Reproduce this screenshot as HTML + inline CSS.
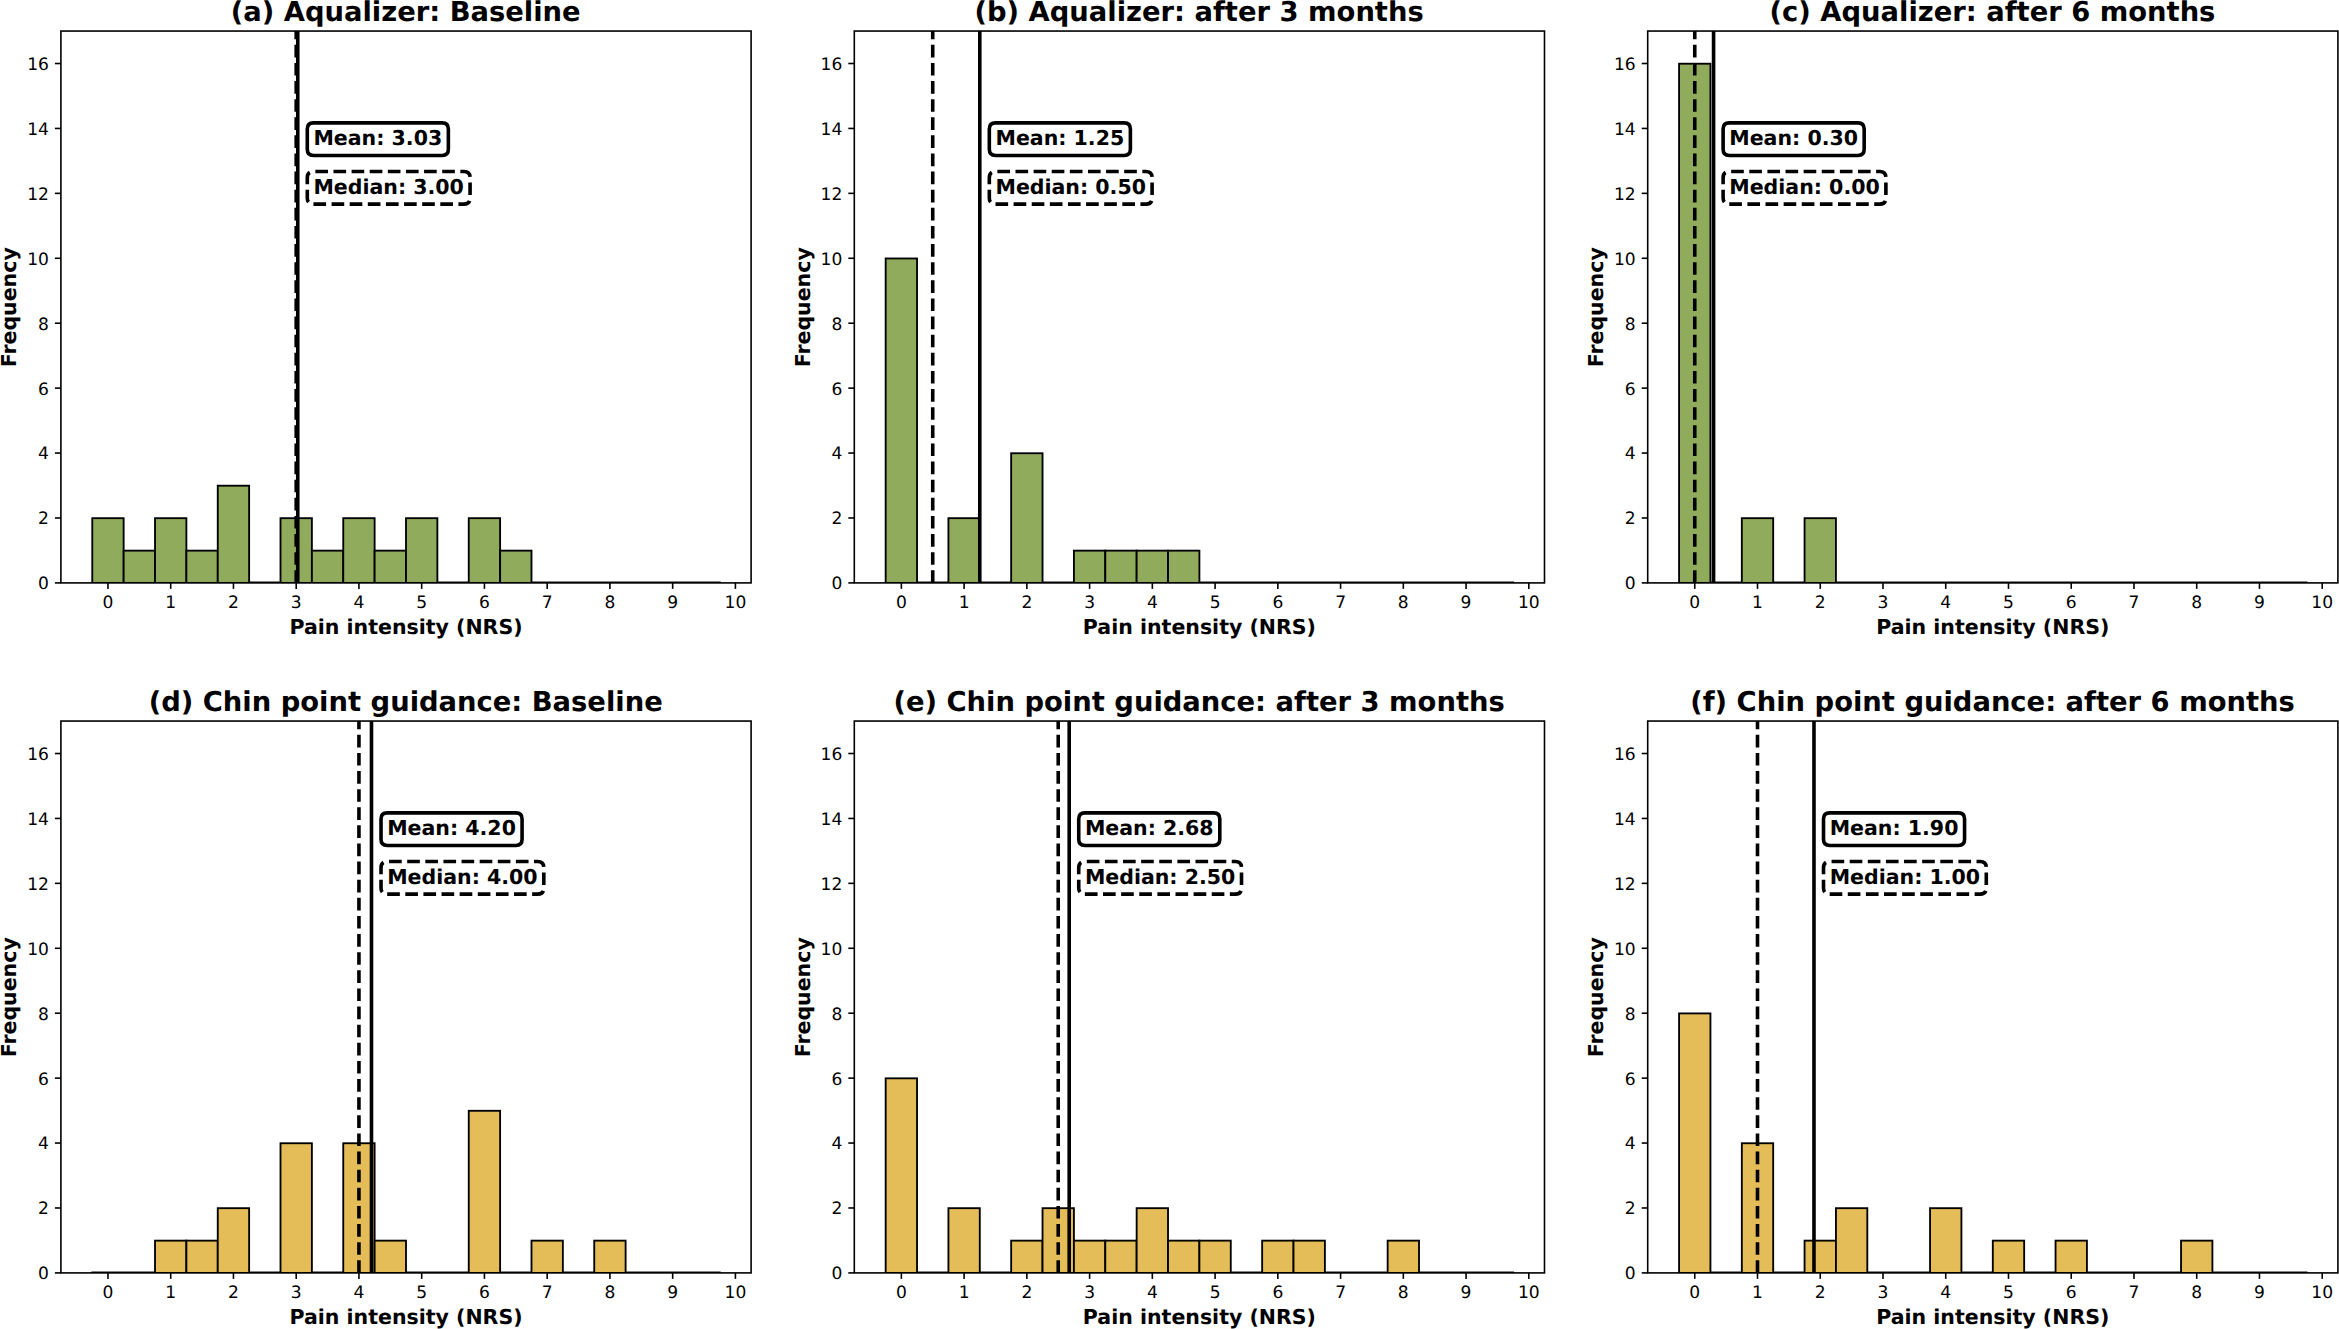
<!DOCTYPE html>
<html lang="en">
<head>
<meta charset="utf-8">
<title>Pain intensity histograms</title>
<style>
html,body{margin:0;padding:0;background:#fff;}
body{width:2339px;height:1329px;overflow:hidden;}
svg{display:block;}
text{text-rendering:geometricPrecision;font-family:"DejaVu Sans","Liberation Sans",sans-serif;font-stretch:normal;fill:#000;}
.tk{font-size:17.1px;}
.lb{font-size:20.52px;font-weight:bold;}
.tt{font-size:27.36px;font-weight:bold;}
.an{font-size:20.52px;font-weight:bold;}
</style>
</head>
<body>
<svg width="2339" height="1329" viewBox="0 0 2339 1329">
<rect x="0" y="0" width="2339" height="1329" fill="#fff"/>
<g id="panel-a">
<clipPath id="cp0"><rect x="60.9" y="31.05" width="690.2" height="551.85"/></clipPath>
<g clip-path="url(#cp0)">
<g fill="#8fab5b" stroke="#000" stroke-width="1.85" stroke-linejoin="miter">
<rect x="249.14" y="582.45" width="31.37" height="0.45"/>
<rect x="437.37" y="582.45" width="31.37" height="0.45"/>
<rect x="531.49" y="582.45" width="188.24" height="0.45"/>
<rect x="92.27" y="518.18" width="31.37" height="64.72"/>
<rect x="123.65" y="550.64" width="31.37" height="32.26"/>
<rect x="155.02" y="518.18" width="31.37" height="64.72"/>
<rect x="186.39" y="550.64" width="31.37" height="32.26"/>
<rect x="217.76" y="485.71" width="31.37" height="97.19"/>
<rect x="280.51" y="518.18" width="31.37" height="64.72"/>
<rect x="311.88" y="550.64" width="31.37" height="32.26"/>
<rect x="343.25" y="518.18" width="31.37" height="64.72"/>
<rect x="374.63" y="550.64" width="31.37" height="32.26"/>
<rect x="406" y="518.18" width="31.37" height="64.72"/>
<rect x="468.75" y="518.18" width="31.37" height="64.72"/>
<rect x="500.12" y="550.64" width="31.37" height="32.26"/>
</g>
<line x1="297.76" y1="582.9" x2="297.76" y2="31.05" stroke="#000" stroke-width="3.6"/>
<line x1="296.2" y1="582.9" x2="296.2" y2="31.05" stroke="#000" stroke-width="3.6" stroke-dasharray="12.65 5.47"/>
</g>
<path d="M313.45 155.44 L442.2 155.44 Q448.36 155.44 448.36 149.29 L448.36 128.99 Q448.36 122.83 442.2 122.83 L313.45 122.83 Q307.29 122.83 307.29 128.99 L307.29 149.29 Q307.29 155.44 313.45 155.44Z" fill="#fff" stroke="#000" stroke-width="3.6"/>
<text class="an" x="313.45" y="144.94">Mean: 3.03</text>
<path d="M313.45 204.13 L463.92 204.13 Q470.08 204.13 470.08 197.98 L470.08 177.68 Q470.08 171.52 463.92 171.52 L313.45 171.52 Q307.29 171.52 307.29 177.68 L307.29 197.98 Q307.29 204.13 313.45 204.13Z" fill="#fff" stroke="#000" stroke-width="3.6" stroke-dasharray="12.65 5.47"/>
<text class="an" x="313.45" y="193.63">Median: 3.00</text>
<rect x="60.9" y="31.05" width="690.2" height="551.85" fill="none" stroke="#000" stroke-width="1.6"/>
<g stroke="#000" stroke-width="1.6">
<line x1="107.96" y1="582.9" x2="107.96" y2="588.88"/>
<line x1="170.7" y1="582.9" x2="170.7" y2="588.88"/>
<line x1="233.45" y1="582.9" x2="233.45" y2="588.88"/>
<line x1="296.2" y1="582.9" x2="296.2" y2="588.88"/>
<line x1="358.94" y1="582.9" x2="358.94" y2="588.88"/>
<line x1="421.69" y1="582.9" x2="421.69" y2="588.88"/>
<line x1="484.43" y1="582.9" x2="484.43" y2="588.88"/>
<line x1="547.18" y1="582.9" x2="547.18" y2="588.88"/>
<line x1="609.92" y1="582.9" x2="609.92" y2="588.88"/>
<line x1="672.67" y1="582.9" x2="672.67" y2="588.88"/>
<line x1="735.41" y1="582.9" x2="735.41" y2="588.88"/>
<line x1="60.9" y1="582.9" x2="54.91" y2="582.9"/>
<line x1="60.9" y1="517.98" x2="54.91" y2="517.98"/>
<line x1="60.9" y1="453.05" x2="54.91" y2="453.05"/>
<line x1="60.9" y1="388.13" x2="54.91" y2="388.13"/>
<line x1="60.9" y1="323.21" x2="54.91" y2="323.21"/>
<line x1="60.9" y1="258.28" x2="54.91" y2="258.28"/>
<line x1="60.9" y1="193.36" x2="54.91" y2="193.36"/>
<line x1="60.9" y1="128.44" x2="54.91" y2="128.44"/>
<line x1="60.9" y1="63.51" x2="54.91" y2="63.51"/>
</g>
<g class="tk" text-anchor="middle">
<text x="107.96" y="608">0</text>
<text x="170.7" y="608">1</text>
<text x="233.45" y="608">2</text>
<text x="296.2" y="608">3</text>
<text x="358.94" y="608">4</text>
<text x="421.69" y="608">5</text>
<text x="484.43" y="608">6</text>
<text x="547.18" y="608">7</text>
<text x="609.92" y="608">8</text>
<text x="672.67" y="608">9</text>
<text x="735.41" y="608">10</text>
</g>
<g class="tk" text-anchor="end">
<text x="48.93" y="589.3">0</text>
<text x="48.93" y="524.38">2</text>
<text x="48.93" y="459.45">4</text>
<text x="48.93" y="394.53">6</text>
<text x="48.93" y="329.61">8</text>
<text x="48.93" y="264.68">10</text>
<text x="48.93" y="199.76">12</text>
<text x="48.93" y="134.84">14</text>
<text x="48.93" y="69.91">16</text>
</g>
<text class="lb" text-anchor="middle" x="406" y="634.1">Pain intensity (NRS)</text>
<text class="lb" text-anchor="middle" transform="translate(16.4 307.27) rotate(-90)">Frequency</text>
<text class="tt" text-anchor="middle" x="405.7" y="20.8">(a) Aqualizer: Baseline</text>
</g>
<g id="panel-b">
<clipPath id="cp1"><rect x="854.3" y="31.05" width="690.2" height="551.85"/></clipPath>
<g clip-path="url(#cp1)">
<g fill="#8fab5b" stroke="#000" stroke-width="1.85" stroke-linejoin="miter">
<rect x="917.05" y="582.45" width="31.37" height="0.45"/>
<rect x="979.79" y="582.45" width="31.37" height="0.45"/>
<rect x="1042.54" y="582.45" width="31.37" height="0.45"/>
<rect x="1199.4" y="582.45" width="313.73" height="0.45"/>
<rect x="885.67" y="258.48" width="31.37" height="324.42"/>
<rect x="948.42" y="518.18" width="31.37" height="64.72"/>
<rect x="1011.16" y="453.25" width="31.37" height="129.65"/>
<rect x="1073.91" y="550.64" width="31.37" height="32.26"/>
<rect x="1105.28" y="550.64" width="31.37" height="32.26"/>
<rect x="1136.65" y="550.64" width="31.37" height="32.26"/>
<rect x="1168.03" y="550.64" width="31.37" height="32.26"/>
</g>
<line x1="979.79" y1="582.9" x2="979.79" y2="31.05" stroke="#000" stroke-width="3.6"/>
<line x1="932.73" y1="582.9" x2="932.73" y2="31.05" stroke="#000" stroke-width="3.6" stroke-dasharray="12.65 5.47"/>
</g>
<path d="M995.48 155.44 L1124.23 155.44 Q1130.38 155.44 1130.38 149.29 L1130.38 128.99 Q1130.38 122.83 1124.23 122.83 L995.48 122.83 Q989.32 122.83 989.32 128.99 L989.32 149.29 Q989.32 155.44 995.48 155.44Z" fill="#fff" stroke="#000" stroke-width="3.6"/>
<text class="an" x="995.48" y="144.94">Mean: 1.25</text>
<path d="M995.48 204.13 L1145.95 204.13 Q1152.1 204.13 1152.1 197.98 L1152.1 177.68 Q1152.1 171.52 1145.95 171.52 L995.48 171.52 Q989.32 171.52 989.32 177.68 L989.32 197.98 Q989.32 204.13 995.48 204.13Z" fill="#fff" stroke="#000" stroke-width="3.6" stroke-dasharray="12.65 5.47"/>
<text class="an" x="995.48" y="193.63">Median: 0.50</text>
<rect x="854.3" y="31.05" width="690.2" height="551.85" fill="none" stroke="#000" stroke-width="1.6"/>
<g stroke="#000" stroke-width="1.6">
<line x1="901.36" y1="582.9" x2="901.36" y2="588.88"/>
<line x1="964.1" y1="582.9" x2="964.1" y2="588.88"/>
<line x1="1026.85" y1="582.9" x2="1026.85" y2="588.88"/>
<line x1="1089.6" y1="582.9" x2="1089.6" y2="588.88"/>
<line x1="1152.34" y1="582.9" x2="1152.34" y2="588.88"/>
<line x1="1215.09" y1="582.9" x2="1215.09" y2="588.88"/>
<line x1="1277.83" y1="582.9" x2="1277.83" y2="588.88"/>
<line x1="1340.58" y1="582.9" x2="1340.58" y2="588.88"/>
<line x1="1403.32" y1="582.9" x2="1403.32" y2="588.88"/>
<line x1="1466.07" y1="582.9" x2="1466.07" y2="588.88"/>
<line x1="1528.81" y1="582.9" x2="1528.81" y2="588.88"/>
<line x1="854.3" y1="582.9" x2="848.31" y2="582.9"/>
<line x1="854.3" y1="517.98" x2="848.31" y2="517.98"/>
<line x1="854.3" y1="453.05" x2="848.31" y2="453.05"/>
<line x1="854.3" y1="388.13" x2="848.31" y2="388.13"/>
<line x1="854.3" y1="323.21" x2="848.31" y2="323.21"/>
<line x1="854.3" y1="258.28" x2="848.31" y2="258.28"/>
<line x1="854.3" y1="193.36" x2="848.31" y2="193.36"/>
<line x1="854.3" y1="128.44" x2="848.31" y2="128.44"/>
<line x1="854.3" y1="63.51" x2="848.31" y2="63.51"/>
</g>
<g class="tk" text-anchor="middle">
<text x="901.36" y="608">0</text>
<text x="964.1" y="608">1</text>
<text x="1026.85" y="608">2</text>
<text x="1089.6" y="608">3</text>
<text x="1152.34" y="608">4</text>
<text x="1215.09" y="608">5</text>
<text x="1277.83" y="608">6</text>
<text x="1340.58" y="608">7</text>
<text x="1403.32" y="608">8</text>
<text x="1466.07" y="608">9</text>
<text x="1528.81" y="608">10</text>
</g>
<g class="tk" text-anchor="end">
<text x="842.33" y="589.3">0</text>
<text x="842.33" y="524.38">2</text>
<text x="842.33" y="459.45">4</text>
<text x="842.33" y="394.53">6</text>
<text x="842.33" y="329.61">8</text>
<text x="842.33" y="264.68">10</text>
<text x="842.33" y="199.76">12</text>
<text x="842.33" y="134.84">14</text>
<text x="842.33" y="69.91">16</text>
</g>
<text class="lb" text-anchor="middle" x="1199.4" y="634.1">Pain intensity (NRS)</text>
<text class="lb" text-anchor="middle" transform="translate(809.8 307.27) rotate(-90)">Frequency</text>
<text class="tt" text-anchor="middle" x="1199.1" y="20.8">(b) Aqualizer: after 3 months</text>
</g>
<g id="panel-c">
<clipPath id="cp2"><rect x="1647.7" y="31.05" width="690.2" height="551.85"/></clipPath>
<g clip-path="url(#cp2)">
<g fill="#8fab5b" stroke="#000" stroke-width="1.85" stroke-linejoin="miter">
<rect x="1710.45" y="582.45" width="31.37" height="0.45"/>
<rect x="1773.19" y="582.45" width="31.37" height="0.45"/>
<rect x="1835.94" y="582.45" width="470.59" height="0.45"/>
<rect x="1679.07" y="63.71" width="31.37" height="519.19"/>
<rect x="1741.82" y="518.18" width="31.37" height="64.72"/>
<rect x="1804.56" y="518.18" width="31.37" height="64.72"/>
</g>
<line x1="1713.58" y1="582.9" x2="1713.58" y2="31.05" stroke="#000" stroke-width="3.6"/>
<line x1="1694.76" y1="582.9" x2="1694.76" y2="31.05" stroke="#000" stroke-width="3.6" stroke-dasharray="12.65 5.47"/>
</g>
<path d="M1729.27 155.44 L1858.02 155.44 Q1864.18 155.44 1864.18 149.29 L1864.18 128.99 Q1864.18 122.83 1858.02 122.83 L1729.27 122.83 Q1723.11 122.83 1723.11 128.99 L1723.11 149.29 Q1723.11 155.44 1729.27 155.44Z" fill="#fff" stroke="#000" stroke-width="3.6"/>
<text class="an" x="1729.27" y="144.94">Mean: 0.30</text>
<path d="M1729.27 204.13 L1879.74 204.13 Q1885.89 204.13 1885.89 197.98 L1885.89 177.68 Q1885.89 171.52 1879.74 171.52 L1729.27 171.52 Q1723.11 171.52 1723.11 177.68 L1723.11 197.98 Q1723.11 204.13 1729.27 204.13Z" fill="#fff" stroke="#000" stroke-width="3.6" stroke-dasharray="12.65 5.47"/>
<text class="an" x="1729.27" y="193.63">Median: 0.00</text>
<rect x="1647.7" y="31.05" width="690.2" height="551.85" fill="none" stroke="#000" stroke-width="1.6"/>
<g stroke="#000" stroke-width="1.6">
<line x1="1694.76" y1="582.9" x2="1694.76" y2="588.88"/>
<line x1="1757.5" y1="582.9" x2="1757.5" y2="588.88"/>
<line x1="1820.25" y1="582.9" x2="1820.25" y2="588.88"/>
<line x1="1883" y1="582.9" x2="1883" y2="588.88"/>
<line x1="1945.74" y1="582.9" x2="1945.74" y2="588.88"/>
<line x1="2008.49" y1="582.9" x2="2008.49" y2="588.88"/>
<line x1="2071.23" y1="582.9" x2="2071.23" y2="588.88"/>
<line x1="2133.98" y1="582.9" x2="2133.98" y2="588.88"/>
<line x1="2196.72" y1="582.9" x2="2196.72" y2="588.88"/>
<line x1="2259.47" y1="582.9" x2="2259.47" y2="588.88"/>
<line x1="2322.21" y1="582.9" x2="2322.21" y2="588.88"/>
<line x1="1647.7" y1="582.9" x2="1641.72" y2="582.9"/>
<line x1="1647.7" y1="517.98" x2="1641.72" y2="517.98"/>
<line x1="1647.7" y1="453.05" x2="1641.72" y2="453.05"/>
<line x1="1647.7" y1="388.13" x2="1641.72" y2="388.13"/>
<line x1="1647.7" y1="323.21" x2="1641.72" y2="323.21"/>
<line x1="1647.7" y1="258.28" x2="1641.72" y2="258.28"/>
<line x1="1647.7" y1="193.36" x2="1641.72" y2="193.36"/>
<line x1="1647.7" y1="128.44" x2="1641.72" y2="128.44"/>
<line x1="1647.7" y1="63.51" x2="1641.72" y2="63.51"/>
</g>
<g class="tk" text-anchor="middle">
<text x="1694.76" y="608">0</text>
<text x="1757.5" y="608">1</text>
<text x="1820.25" y="608">2</text>
<text x="1883" y="608">3</text>
<text x="1945.74" y="608">4</text>
<text x="2008.49" y="608">5</text>
<text x="2071.23" y="608">6</text>
<text x="2133.98" y="608">7</text>
<text x="2196.72" y="608">8</text>
<text x="2259.47" y="608">9</text>
<text x="2322.21" y="608">10</text>
</g>
<g class="tk" text-anchor="end">
<text x="1635.73" y="589.3">0</text>
<text x="1635.73" y="524.38">2</text>
<text x="1635.73" y="459.45">4</text>
<text x="1635.73" y="394.53">6</text>
<text x="1635.73" y="329.61">8</text>
<text x="1635.73" y="264.68">10</text>
<text x="1635.73" y="199.76">12</text>
<text x="1635.73" y="134.84">14</text>
<text x="1635.73" y="69.91">16</text>
</g>
<text class="lb" text-anchor="middle" x="1992.8" y="634.1">Pain intensity (NRS)</text>
<text class="lb" text-anchor="middle" transform="translate(1603.2 307.27) rotate(-90)">Frequency</text>
<text class="tt" text-anchor="middle" x="1992.5" y="20.8">(c) Aqualizer: after 6 months</text>
</g>
<g id="panel-d">
<clipPath id="cp3"><rect x="60.9" y="721.05" width="690.2" height="551.85"/></clipPath>
<g clip-path="url(#cp3)">
<g fill="#e4bd58" stroke="#000" stroke-width="1.85" stroke-linejoin="miter">
<rect x="92.27" y="1272.45" width="62.75" height="0.45"/>
<rect x="249.14" y="1272.45" width="31.37" height="0.45"/>
<rect x="311.88" y="1272.45" width="31.37" height="0.45"/>
<rect x="406" y="1272.45" width="62.75" height="0.45"/>
<rect x="500.12" y="1272.45" width="31.37" height="0.45"/>
<rect x="562.86" y="1272.45" width="31.37" height="0.45"/>
<rect x="625.61" y="1272.45" width="94.12" height="0.45"/>
<rect x="155.02" y="1240.64" width="31.37" height="32.26"/>
<rect x="186.39" y="1240.64" width="31.37" height="32.26"/>
<rect x="217.76" y="1208.18" width="31.37" height="64.72"/>
<rect x="280.51" y="1143.25" width="31.37" height="129.65"/>
<rect x="343.25" y="1143.25" width="31.37" height="129.65"/>
<rect x="374.63" y="1240.64" width="31.37" height="32.26"/>
<rect x="468.75" y="1110.79" width="31.37" height="162.11"/>
<rect x="531.49" y="1240.64" width="31.37" height="32.26"/>
<rect x="594.24" y="1240.64" width="31.37" height="32.26"/>
</g>
<line x1="371.49" y1="1272.9" x2="371.49" y2="721.05" stroke="#000" stroke-width="3.6"/>
<line x1="358.94" y1="1272.9" x2="358.94" y2="721.05" stroke="#000" stroke-width="3.6" stroke-dasharray="12.65 5.47"/>
</g>
<path d="M387.18 845.44 L515.93 845.44 Q522.08 845.44 522.08 839.29 L522.08 818.99 Q522.08 812.83 515.93 812.83 L387.18 812.83 Q381.02 812.83 381.02 818.99 L381.02 839.29 Q381.02 845.44 387.18 845.44Z" fill="#fff" stroke="#000" stroke-width="3.6"/>
<text class="an" x="387.18" y="834.94">Mean: 4.20</text>
<path d="M387.18 894.13 L537.65 894.13 Q543.8 894.13 543.8 887.98 L543.8 867.68 Q543.8 861.52 537.65 861.52 L387.18 861.52 Q381.02 861.52 381.02 867.68 L381.02 887.98 Q381.02 894.13 387.18 894.13Z" fill="#fff" stroke="#000" stroke-width="3.6" stroke-dasharray="12.65 5.47"/>
<text class="an" x="387.18" y="883.63">Median: 4.00</text>
<rect x="60.9" y="721.05" width="690.2" height="551.85" fill="none" stroke="#000" stroke-width="1.6"/>
<g stroke="#000" stroke-width="1.6">
<line x1="107.96" y1="1272.9" x2="107.96" y2="1278.88"/>
<line x1="170.7" y1="1272.9" x2="170.7" y2="1278.88"/>
<line x1="233.45" y1="1272.9" x2="233.45" y2="1278.88"/>
<line x1="296.2" y1="1272.9" x2="296.2" y2="1278.88"/>
<line x1="358.94" y1="1272.9" x2="358.94" y2="1278.88"/>
<line x1="421.69" y1="1272.9" x2="421.69" y2="1278.88"/>
<line x1="484.43" y1="1272.9" x2="484.43" y2="1278.88"/>
<line x1="547.18" y1="1272.9" x2="547.18" y2="1278.88"/>
<line x1="609.92" y1="1272.9" x2="609.92" y2="1278.88"/>
<line x1="672.67" y1="1272.9" x2="672.67" y2="1278.88"/>
<line x1="735.41" y1="1272.9" x2="735.41" y2="1278.88"/>
<line x1="60.9" y1="1272.9" x2="54.91" y2="1272.9"/>
<line x1="60.9" y1="1207.98" x2="54.91" y2="1207.98"/>
<line x1="60.9" y1="1143.05" x2="54.91" y2="1143.05"/>
<line x1="60.9" y1="1078.13" x2="54.91" y2="1078.13"/>
<line x1="60.9" y1="1013.21" x2="54.91" y2="1013.21"/>
<line x1="60.9" y1="948.28" x2="54.91" y2="948.28"/>
<line x1="60.9" y1="883.36" x2="54.91" y2="883.36"/>
<line x1="60.9" y1="818.44" x2="54.91" y2="818.44"/>
<line x1="60.9" y1="753.51" x2="54.91" y2="753.51"/>
</g>
<g class="tk" text-anchor="middle">
<text x="107.96" y="1298">0</text>
<text x="170.7" y="1298">1</text>
<text x="233.45" y="1298">2</text>
<text x="296.2" y="1298">3</text>
<text x="358.94" y="1298">4</text>
<text x="421.69" y="1298">5</text>
<text x="484.43" y="1298">6</text>
<text x="547.18" y="1298">7</text>
<text x="609.92" y="1298">8</text>
<text x="672.67" y="1298">9</text>
<text x="735.41" y="1298">10</text>
</g>
<g class="tk" text-anchor="end">
<text x="48.93" y="1279.3">0</text>
<text x="48.93" y="1214.38">2</text>
<text x="48.93" y="1149.45">4</text>
<text x="48.93" y="1084.53">6</text>
<text x="48.93" y="1019.61">8</text>
<text x="48.93" y="954.68">10</text>
<text x="48.93" y="889.76">12</text>
<text x="48.93" y="824.84">14</text>
<text x="48.93" y="759.91">16</text>
</g>
<text class="lb" text-anchor="middle" x="406" y="1324.1">Pain intensity (NRS)</text>
<text class="lb" text-anchor="middle" transform="translate(16.4 997.27) rotate(-90)">Frequency</text>
<text class="tt" text-anchor="middle" x="405.7" y="710.8">(d) Chin point guidance: Baseline</text>
</g>
<g id="panel-e">
<clipPath id="cp4"><rect x="854.3" y="721.05" width="690.2" height="551.85"/></clipPath>
<g clip-path="url(#cp4)">
<g fill="#e4bd58" stroke="#000" stroke-width="1.85" stroke-linejoin="miter">
<rect x="917.05" y="1272.45" width="31.37" height="0.45"/>
<rect x="979.79" y="1272.45" width="31.37" height="0.45"/>
<rect x="1230.77" y="1272.45" width="31.37" height="0.45"/>
<rect x="1324.89" y="1272.45" width="62.75" height="0.45"/>
<rect x="1419.01" y="1272.45" width="94.12" height="0.45"/>
<rect x="885.67" y="1078.33" width="31.37" height="194.57"/>
<rect x="948.42" y="1208.18" width="31.37" height="64.72"/>
<rect x="1011.16" y="1240.64" width="31.37" height="32.26"/>
<rect x="1042.54" y="1208.18" width="31.37" height="64.72"/>
<rect x="1073.91" y="1240.64" width="31.37" height="32.26"/>
<rect x="1105.28" y="1240.64" width="31.37" height="32.26"/>
<rect x="1136.65" y="1208.18" width="31.37" height="64.72"/>
<rect x="1168.03" y="1240.64" width="31.37" height="32.26"/>
<rect x="1199.4" y="1240.64" width="31.37" height="32.26"/>
<rect x="1262.15" y="1240.64" width="31.37" height="32.26"/>
<rect x="1293.52" y="1240.64" width="31.37" height="32.26"/>
<rect x="1387.64" y="1240.64" width="31.37" height="32.26"/>
</g>
<line x1="1069.2" y1="1272.9" x2="1069.2" y2="721.05" stroke="#000" stroke-width="3.6"/>
<line x1="1058.22" y1="1272.9" x2="1058.22" y2="721.05" stroke="#000" stroke-width="3.6" stroke-dasharray="12.65 5.47"/>
</g>
<path d="M1084.89 845.44 L1213.64 845.44 Q1219.8 845.44 1219.8 839.29 L1219.8 818.99 Q1219.8 812.83 1213.64 812.83 L1084.89 812.83 Q1078.73 812.83 1078.73 818.99 L1078.73 839.29 Q1078.73 845.44 1084.89 845.44Z" fill="#fff" stroke="#000" stroke-width="3.6"/>
<text class="an" x="1084.89" y="834.94">Mean: 2.68</text>
<path d="M1084.89 894.13 L1235.36 894.13 Q1241.51 894.13 1241.51 887.98 L1241.51 867.68 Q1241.51 861.52 1235.36 861.52 L1084.89 861.52 Q1078.73 861.52 1078.73 867.68 L1078.73 887.98 Q1078.73 894.13 1084.89 894.13Z" fill="#fff" stroke="#000" stroke-width="3.6" stroke-dasharray="12.65 5.47"/>
<text class="an" x="1084.89" y="883.63">Median: 2.50</text>
<rect x="854.3" y="721.05" width="690.2" height="551.85" fill="none" stroke="#000" stroke-width="1.6"/>
<g stroke="#000" stroke-width="1.6">
<line x1="901.36" y1="1272.9" x2="901.36" y2="1278.88"/>
<line x1="964.1" y1="1272.9" x2="964.1" y2="1278.88"/>
<line x1="1026.85" y1="1272.9" x2="1026.85" y2="1278.88"/>
<line x1="1089.6" y1="1272.9" x2="1089.6" y2="1278.88"/>
<line x1="1152.34" y1="1272.9" x2="1152.34" y2="1278.88"/>
<line x1="1215.09" y1="1272.9" x2="1215.09" y2="1278.88"/>
<line x1="1277.83" y1="1272.9" x2="1277.83" y2="1278.88"/>
<line x1="1340.58" y1="1272.9" x2="1340.58" y2="1278.88"/>
<line x1="1403.32" y1="1272.9" x2="1403.32" y2="1278.88"/>
<line x1="1466.07" y1="1272.9" x2="1466.07" y2="1278.88"/>
<line x1="1528.81" y1="1272.9" x2="1528.81" y2="1278.88"/>
<line x1="854.3" y1="1272.9" x2="848.31" y2="1272.9"/>
<line x1="854.3" y1="1207.98" x2="848.31" y2="1207.98"/>
<line x1="854.3" y1="1143.05" x2="848.31" y2="1143.05"/>
<line x1="854.3" y1="1078.13" x2="848.31" y2="1078.13"/>
<line x1="854.3" y1="1013.21" x2="848.31" y2="1013.21"/>
<line x1="854.3" y1="948.28" x2="848.31" y2="948.28"/>
<line x1="854.3" y1="883.36" x2="848.31" y2="883.36"/>
<line x1="854.3" y1="818.44" x2="848.31" y2="818.44"/>
<line x1="854.3" y1="753.51" x2="848.31" y2="753.51"/>
</g>
<g class="tk" text-anchor="middle">
<text x="901.36" y="1298">0</text>
<text x="964.1" y="1298">1</text>
<text x="1026.85" y="1298">2</text>
<text x="1089.6" y="1298">3</text>
<text x="1152.34" y="1298">4</text>
<text x="1215.09" y="1298">5</text>
<text x="1277.83" y="1298">6</text>
<text x="1340.58" y="1298">7</text>
<text x="1403.32" y="1298">8</text>
<text x="1466.07" y="1298">9</text>
<text x="1528.81" y="1298">10</text>
</g>
<g class="tk" text-anchor="end">
<text x="842.33" y="1279.3">0</text>
<text x="842.33" y="1214.38">2</text>
<text x="842.33" y="1149.45">4</text>
<text x="842.33" y="1084.53">6</text>
<text x="842.33" y="1019.61">8</text>
<text x="842.33" y="954.68">10</text>
<text x="842.33" y="889.76">12</text>
<text x="842.33" y="824.84">14</text>
<text x="842.33" y="759.91">16</text>
</g>
<text class="lb" text-anchor="middle" x="1199.4" y="1324.1">Pain intensity (NRS)</text>
<text class="lb" text-anchor="middle" transform="translate(809.8 997.27) rotate(-90)">Frequency</text>
<text class="tt" text-anchor="middle" x="1199.1" y="710.8">(e) Chin point guidance: after 3 months</text>
</g>
<g id="panel-f">
<clipPath id="cp5"><rect x="1647.7" y="721.05" width="690.2" height="551.85"/></clipPath>
<g clip-path="url(#cp5)">
<g fill="#e4bd58" stroke="#000" stroke-width="1.85" stroke-linejoin="miter">
<rect x="1710.45" y="1272.45" width="31.37" height="0.45"/>
<rect x="1773.19" y="1272.45" width="31.37" height="0.45"/>
<rect x="1867.31" y="1272.45" width="62.75" height="0.45"/>
<rect x="1961.43" y="1272.45" width="31.37" height="0.45"/>
<rect x="2024.17" y="1272.45" width="31.37" height="0.45"/>
<rect x="2086.92" y="1272.45" width="94.12" height="0.45"/>
<rect x="2212.41" y="1272.45" width="94.12" height="0.45"/>
<rect x="1679.07" y="1013.41" width="31.37" height="259.49"/>
<rect x="1741.82" y="1143.25" width="31.37" height="129.65"/>
<rect x="1804.56" y="1240.64" width="31.37" height="32.26"/>
<rect x="1835.94" y="1208.18" width="31.37" height="64.72"/>
<rect x="1930.05" y="1208.18" width="31.37" height="64.72"/>
<rect x="1992.8" y="1240.64" width="31.37" height="32.26"/>
<rect x="2055.55" y="1240.64" width="31.37" height="32.26"/>
<rect x="2181.04" y="1240.64" width="31.37" height="32.26"/>
</g>
<line x1="1813.98" y1="1272.9" x2="1813.98" y2="721.05" stroke="#000" stroke-width="3.6"/>
<line x1="1757.5" y1="1272.9" x2="1757.5" y2="721.05" stroke="#000" stroke-width="3.6" stroke-dasharray="12.65 5.47"/>
</g>
<path d="M1829.66 845.44 L1958.41 845.44 Q1964.57 845.44 1964.57 839.29 L1964.57 818.99 Q1964.57 812.83 1958.41 812.83 L1829.66 812.83 Q1823.51 812.83 1823.51 818.99 L1823.51 839.29 Q1823.51 845.44 1829.66 845.44Z" fill="#fff" stroke="#000" stroke-width="3.6"/>
<text class="an" x="1829.66" y="834.94">Mean: 1.90</text>
<path d="M1829.66 894.13 L1980.13 894.13 Q1986.29 894.13 1986.29 887.98 L1986.29 867.68 Q1986.29 861.52 1980.13 861.52 L1829.66 861.52 Q1823.51 861.52 1823.51 867.68 L1823.51 887.98 Q1823.51 894.13 1829.66 894.13Z" fill="#fff" stroke="#000" stroke-width="3.6" stroke-dasharray="12.65 5.47"/>
<text class="an" x="1829.66" y="883.63">Median: 1.00</text>
<rect x="1647.7" y="721.05" width="690.2" height="551.85" fill="none" stroke="#000" stroke-width="1.6"/>
<g stroke="#000" stroke-width="1.6">
<line x1="1694.76" y1="1272.9" x2="1694.76" y2="1278.88"/>
<line x1="1757.5" y1="1272.9" x2="1757.5" y2="1278.88"/>
<line x1="1820.25" y1="1272.9" x2="1820.25" y2="1278.88"/>
<line x1="1883" y1="1272.9" x2="1883" y2="1278.88"/>
<line x1="1945.74" y1="1272.9" x2="1945.74" y2="1278.88"/>
<line x1="2008.49" y1="1272.9" x2="2008.49" y2="1278.88"/>
<line x1="2071.23" y1="1272.9" x2="2071.23" y2="1278.88"/>
<line x1="2133.98" y1="1272.9" x2="2133.98" y2="1278.88"/>
<line x1="2196.72" y1="1272.9" x2="2196.72" y2="1278.88"/>
<line x1="2259.47" y1="1272.9" x2="2259.47" y2="1278.88"/>
<line x1="2322.21" y1="1272.9" x2="2322.21" y2="1278.88"/>
<line x1="1647.7" y1="1272.9" x2="1641.72" y2="1272.9"/>
<line x1="1647.7" y1="1207.98" x2="1641.72" y2="1207.98"/>
<line x1="1647.7" y1="1143.05" x2="1641.72" y2="1143.05"/>
<line x1="1647.7" y1="1078.13" x2="1641.72" y2="1078.13"/>
<line x1="1647.7" y1="1013.21" x2="1641.72" y2="1013.21"/>
<line x1="1647.7" y1="948.28" x2="1641.72" y2="948.28"/>
<line x1="1647.7" y1="883.36" x2="1641.72" y2="883.36"/>
<line x1="1647.7" y1="818.44" x2="1641.72" y2="818.44"/>
<line x1="1647.7" y1="753.51" x2="1641.72" y2="753.51"/>
</g>
<g class="tk" text-anchor="middle">
<text x="1694.76" y="1298">0</text>
<text x="1757.5" y="1298">1</text>
<text x="1820.25" y="1298">2</text>
<text x="1883" y="1298">3</text>
<text x="1945.74" y="1298">4</text>
<text x="2008.49" y="1298">5</text>
<text x="2071.23" y="1298">6</text>
<text x="2133.98" y="1298">7</text>
<text x="2196.72" y="1298">8</text>
<text x="2259.47" y="1298">9</text>
<text x="2322.21" y="1298">10</text>
</g>
<g class="tk" text-anchor="end">
<text x="1635.73" y="1279.3">0</text>
<text x="1635.73" y="1214.38">2</text>
<text x="1635.73" y="1149.45">4</text>
<text x="1635.73" y="1084.53">6</text>
<text x="1635.73" y="1019.61">8</text>
<text x="1635.73" y="954.68">10</text>
<text x="1635.73" y="889.76">12</text>
<text x="1635.73" y="824.84">14</text>
<text x="1635.73" y="759.91">16</text>
</g>
<text class="lb" text-anchor="middle" x="1992.8" y="1324.1">Pain intensity (NRS)</text>
<text class="lb" text-anchor="middle" transform="translate(1603.2 997.27) rotate(-90)">Frequency</text>
<text class="tt" text-anchor="middle" x="1992.5" y="710.8">(f) Chin point guidance: after 6 months</text>
</g>
</svg>
</body>
</html>
